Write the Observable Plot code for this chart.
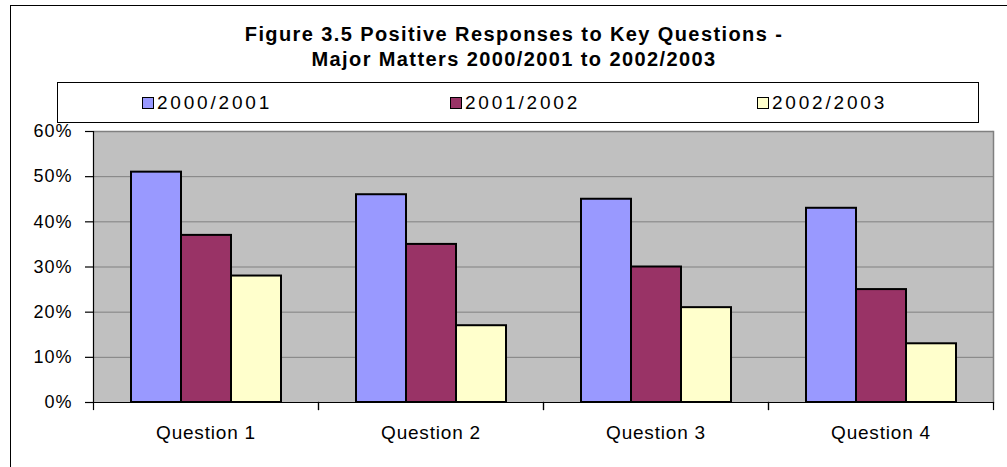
<!DOCTYPE html>
<html>
<head>
<meta charset="utf-8">
<script src="https://cdn.jsdelivr.net/npm/d3@7"></script>
<script src="https://cdn.jsdelivr.net/npm/@observablehq/plot@0.6"></script>
<style>
  body { margin: 0; background: #fff; }
  #wrap { position: relative; width: 1007px; height: 467px; overflow: hidden;
          font-family: "Liberation Sans", Arial, sans-serif; color: #000; }
  #chart { position: absolute; left: 0; top: 0; }
  #border { position: absolute; left: 10px; top: 5px; width: 1100px; height: 600px;
            border: 1px solid #000; box-sizing: border-box; pointer-events: none; }
  #title { position: absolute; left: 0; width: 1028px; top: 22px; text-align: center;
           font-weight: bold; font-size: 20px; letter-spacing: 1.4px; line-height: 25px; }
  #legend { position: absolute; left: 57px; top: 82px; width: 922px; height: 41px;
            border: 1px solid #000; box-sizing: border-box; background: #fff; }
  .sw { position: absolute; top: 14px; width: 12px; height: 12px; border: 1.5px solid #000;
        box-sizing: border-box; }
  .lt { position: absolute; top: 10px; font-size: 19px; line-height: 19px; letter-spacing: 2.8px; white-space: nowrap; }
  g[aria-label="y-axis tick label"] text { letter-spacing: 1px; }
  g[aria-label="fx-axis tick label"] text { letter-spacing: 0.8px; }
</style>
</head>
<body>
<div id="wrap">
  <div id="chart"></div>
  <div id="title"></div>
  <div id="legend"></div>
  <div id="border"></div>
</div>
<script>
const titleLines = ["Figure 3.5 Positive Responses to Key Questions -", "Major Matters 2000/2001 to 2002/2003"];
const questions = ["Question 1", "Question 2", "Question 3", "Question 4"];
const series = ["2000/2001", "2001/2002", "2002/2003"];
const values2000 = [51, 46, 45, 43];
const values2001 = [37, 35, 30, 25];
const values2002 = [28, 17, 21, 13];
const colors = ["#9999FF", "#993366", "#FFFFCC"];
const yTicks = [0, 10, 20, 30, 40, 50, 60];

const seriesValues = [values2000, values2001, values2002];
const data = questions.flatMap((q, i) =>
  series.map((s, j) => ({question: q, series: s, value: seriesValues[j][i]})));

const W = 1007, H = 467, mt = 131, mb = 65, ml = 93, mr = 14;
const plotH = H - mt - mb;

const chart = Plot.plot({
  width: W, height: H,
  marginLeft: ml, marginRight: mr, marginTop: mt, marginBottom: mb,
  style: {fontFamily: "Liberation Sans, Arial, sans-serif", background: "transparent", color: "#000", overflow: "visible"},
  fx: {domain: questions, padding: 0, label: null, axis: null},
  x: {domain: series, paddingInner: 0, paddingOuter: 0.74, axis: null},
  y: {domain: [0, 60], axis: null},
  color: {domain: series, range: colors},
  marks: [
    Plot.frame({facet: "super", fill: "#C0C0C0", stroke: null}),
    Plot.ruleY(yTicks.slice(1, -1), {stroke: "#808080", strokeWidth: 1}),
    Plot.ruleY([60], {stroke: "#808080", strokeWidth: 1.5}),
    Plot.frame({facet: "super", anchor: "right", stroke: "#808080", strokeWidth: 1.5}),
    Plot.barY(data, {fx: "question", x: "series", y: "value", fill: "series", stroke: "#000", strokeWidth: 2}),
    Plot.ruleY([0], {stroke: "#000", strokeWidth: 1.2}),
    Plot.frame({facet: "super", anchor: "left", stroke: "#000", strokeWidth: 1.2}),
    Plot.frame({anchor: "left", stroke: "#000", strokeWidth: 1.2, insetTop: plotH, insetBottom: -7}),
    Plot.frame({anchor: "right", stroke: "#000", strokeWidth: 1.2, insetTop: plotH, insetBottom: -7}),
    Plot.axisY({ticks: yTicks, tickSize: 8, tickPadding: 13, tickFormat: d => d + "%", fontSize: 18, stroke: "#000", strokeWidth: 1.2, strokeOpacity: 1, label: null}),
    Plot.axisFx({anchor: "bottom", tickSize: 0, tickPadding: 23, fontSize: 19, label: null})
  ]
});
document.getElementById("chart").appendChild(chart);

document.getElementById("title").innerHTML = titleLines.join("<br>");

const legend = document.getElementById("legend");
const swLeft = [84, 392, 699];
series.forEach((s, i) => {
  const sw = document.createElement("div");
  sw.className = "sw";
  sw.style.left = swLeft[i] + "px";
  sw.style.background = colors[i];
  legend.appendChild(sw);
  const t = document.createElement("div");
  t.className = "lt";
  t.style.left = (swLeft[i] + 15) + "px";
  t.textContent = s;
  legend.appendChild(t);
});
</script>
</body>
</html>
